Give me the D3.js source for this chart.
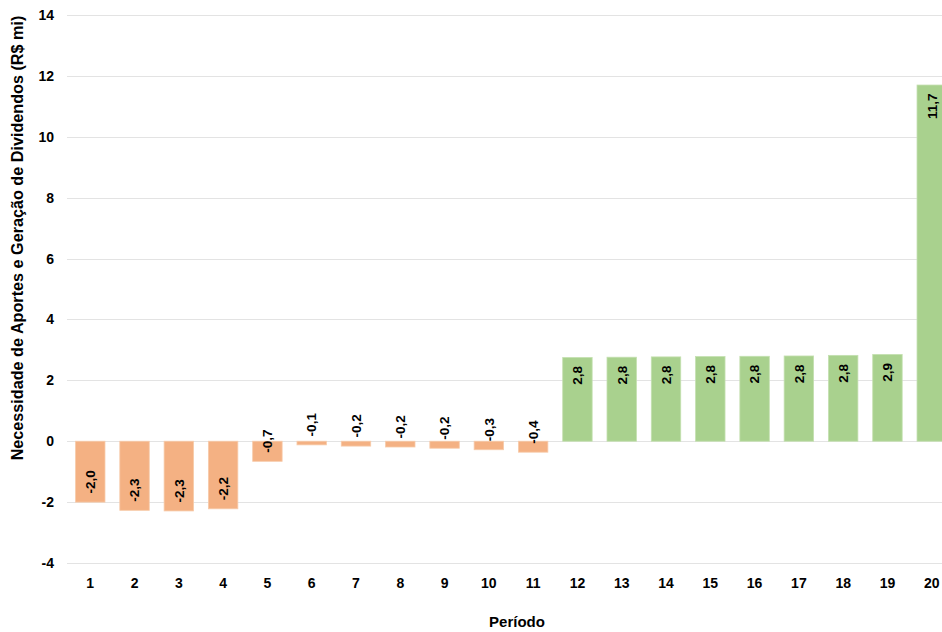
<!DOCTYPE html>
<html>
<head>
<meta charset="utf-8">
<script src="https://cdn.jsdelivr.net/npm/d3@7"></script>
<style>
  html, body { margin: 0; padding: 0; background: #fff; }
  svg { display: block; }
  text { font-family: "Liberation Sans", Arial, sans-serif; font-weight: bold; fill: #000; }
</style>
</head>
<body>
<svg id="chart" width="942" height="632"></svg>
<script>
const periods = ["1","2","3","4","5","6","7","8","9","10","11","12","13","14","15","16","17","18","19","20"];
const values = [-2.0, -2.27, -2.29, -2.22, -0.66, -0.12, -0.16, -0.19, -0.23, -0.28, -0.36, 2.75, 2.76, 2.77, 2.78, 2.79, 2.80, 2.82, 2.85, 11.7];
const valueLabels = ["-2,0","-2,3","-2,3","-2,2","-0,7","-0,1","-0,2","-0,2","-0,2","-0,3","-0,4","2,8","2,8","2,8","2,8","2,8","2,8","2,8","2,9","11,7"];
const yTicks = [-4, -2, 0, 2, 4, 6, 8, 10, 12, 14];
const yTitle = "Necessidade de Aportes e Geração de Dividendos (R$ mi)";
const xTitle = "Período";
const negColor = "#f4b183";
const posColor = "#a9d18e";

const svg = d3.select("#chart");

const x = d3.scaleBand().domain(periods).range([68, 954]).paddingInner(0.335).paddingOuter(0.17);
const y = d3.scaleLinear().domain([-4, 14]).range([563, 15]);

// gridlines
svg.append("g").selectAll("line").data(yTicks).join("line")
  .attr("x1", 67).attr("x2", 942)
  .attr("y1", d => Math.round(y(d)) + 0.5).attr("y2", d => Math.round(y(d)) + 0.5)
  .attr("stroke", "#e3e3e3").attr("stroke-width", 1);

// y axis
const yAxis = d3.axisLeft(y).tickValues(yTicks).tickSize(0).tickPadding(0).tickFormat(d => String(d));
const gy = svg.append("g").attr("transform", "translate(54,0)").call(yAxis);
gy.select(".domain").remove();
gy.selectAll("text").style("font-size", "14px").style("font-family", "Liberation Sans, Arial, sans-serif").style("font-weight", "bold").attr("fill", "#000");

// bars
const data = periods.map((p, i) => ({ p, v: values[i], label: valueLabels[i] }));
svg.append("g").selectAll("rect").data(data).join("rect")
  .attr("x", d => x(d.p))
  .attr("width", x.bandwidth())
  .attr("y", d => y(Math.max(0, d.v)))
  .attr("height", d => Math.abs(y(d.v) - y(0)))
  .attr("fill", d => d.v < 0 ? negColor : posColor)
  .attr("stroke", d => d.v < 0 ? "#f7cbaa" : "#c4e0b0")
  .attr("stroke-width", 0.8);

// value labels (rotated)
svg.append("g").selectAll("text").data(data).join("text")
  .attr("transform", d => {
    const cx = x(d.p) + x.bandwidth() / 2;
    const yy = d.v < 0 ? y(d.v) - 8.5 : y(d.v) + 8.5;
    return `translate(${cx + 4.8},${yy}) rotate(-90)`;
  })
  .attr("text-anchor", d => d.v < 0 ? "start" : "end")
  .style("font-size", "13.5px")
  .text(d => d.label);

// x axis
const xAxis = d3.axisBottom(x).tickSize(0).tickPadding(0);
const gx = svg.append("g").attr("transform", "translate(0,578)").call(xAxis);
gx.select(".domain").remove();
gx.selectAll("text").style("font-size", "14px").style("font-family", "Liberation Sans, Arial, sans-serif").style("font-weight", "bold").attr("fill", "#000");

// axis titles
const yt = svg.append("text")
  .attr("transform", "translate(23,238) rotate(-90)")
  .attr("text-anchor", "middle")
  .style("font-size", "14px")
  .text(yTitle);
const len = yt.node().getComputedTextLength();
yt.style("font-size", (14 * 445 / len).toFixed(2) + "px");

svg.append("text")
  .attr("x", 517).attr("y", 627)
  .attr("text-anchor", "middle")
  .style("font-size", "15px")
  .text(xTitle);
</script>
</body>
</html>
